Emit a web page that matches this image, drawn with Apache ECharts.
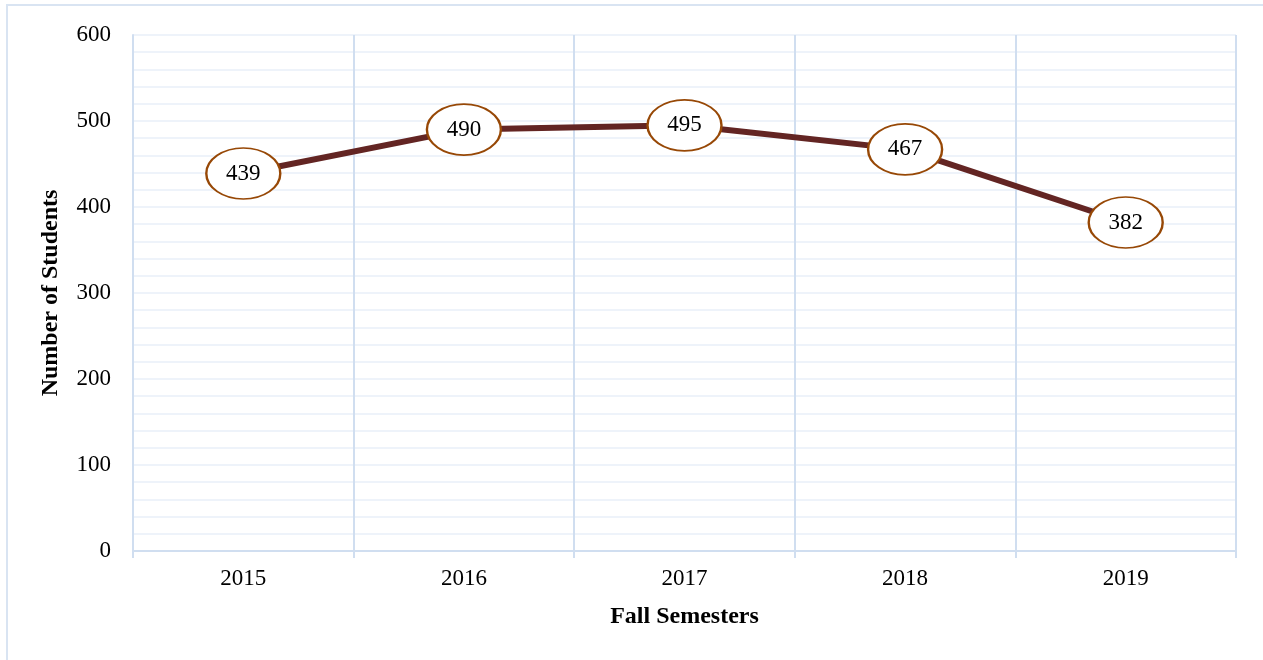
<!DOCTYPE html>
<html>
<head>
<meta charset="utf-8">
<script src="https://cdn.jsdelivr.net/npm/echarts@6/dist/echarts.min.js"></script>
<style>
	html, body { margin: 0; padding: 0; background: #fff; }
	#chart { width: 1263px; height: 660px; }
</style>
</head>
<body>
<div id="chart"></div>
<script>
// 学期
var semesters = ['2015', '2016', '2017', '2018', '2019']
// 学生人数
var students = [439, 490, 495, 467, 382]

var serif = '"Liberation Serif", "Times New Roman", serif'

var chart = echarts.init(document.getElementById('chart'))

var option = {
	animation: false,
	backgroundColor: '#fff',
	graphic: [{
		type: 'rect',
		shape: { x: 7, y: 5, width: 1270, height: 680 },
		style: { fill: 'none', stroke: '#D9E4F2', lineWidth: 2 },
		silent: true
	}],
	grid: {
		left: 133,
		right: 27,
		top: 35,
		bottom: 109
	},
	xAxis: {
		type: 'category',
		data: semesters,
		boundaryGap: true,
		name: 'Fall Semesters',
		nameLocation: 'middle',
		nameGap: 54,
		nameTextStyle: { fontFamily: serif, fontSize: 24, fontWeight: 'bold', color: '#000' },
		axisLine: { lineStyle: { color: '#D0DEF0', width: 2 } },
		axisTick: { show: true, length: 7, lineStyle: { color: '#D0DEF0', width: 2 } },
		axisLabel: { fontFamily: serif, fontSize: 23, color: '#000', margin: 16 },
		splitLine: { show: true, lineStyle: { color: '#D0DEF0', width: 2 } }
	},
	yAxis: {
		type: 'value',
		min: 0,
		max: 600,
		interval: 100,
		name: 'Number of Students',
		nameLocation: 'middle',
		nameGap: 70,
		nameTextStyle: { fontFamily: serif, fontSize: 24, fontWeight: 'bold', color: '#000' },
		axisLine: { show: true, lineStyle: { color: '#D0DEF0', width: 2 } },
		axisTick: { show: false },
		axisLabel: { fontFamily: serif, fontSize: 23, color: '#000', margin: 22 },
		splitLine: { show: true, lineStyle: { color: '#EEF3FA', width: 2 } },
		minorTick: { show: false, splitNumber: 5 },
		minorSplitLine: { show: true, lineStyle: { color: '#EEF3FA', width: 2 } }
	},
	series: [{
		type: 'line',
		data: students,
		lineStyle: { color: '#632523', width: 6 },
		symbol: 'circle',
		symbolSize: [74, 51],
		itemStyle: { color: '#fff', borderColor: '#974806', borderWidth: 2 },
		label: {
			show: true,
			position: 'inside',
			fontFamily: serif,
			fontSize: 23,
			color: '#000'
		}
	}]
}

chart.setOption(option)
</script>
</body>
</html>
